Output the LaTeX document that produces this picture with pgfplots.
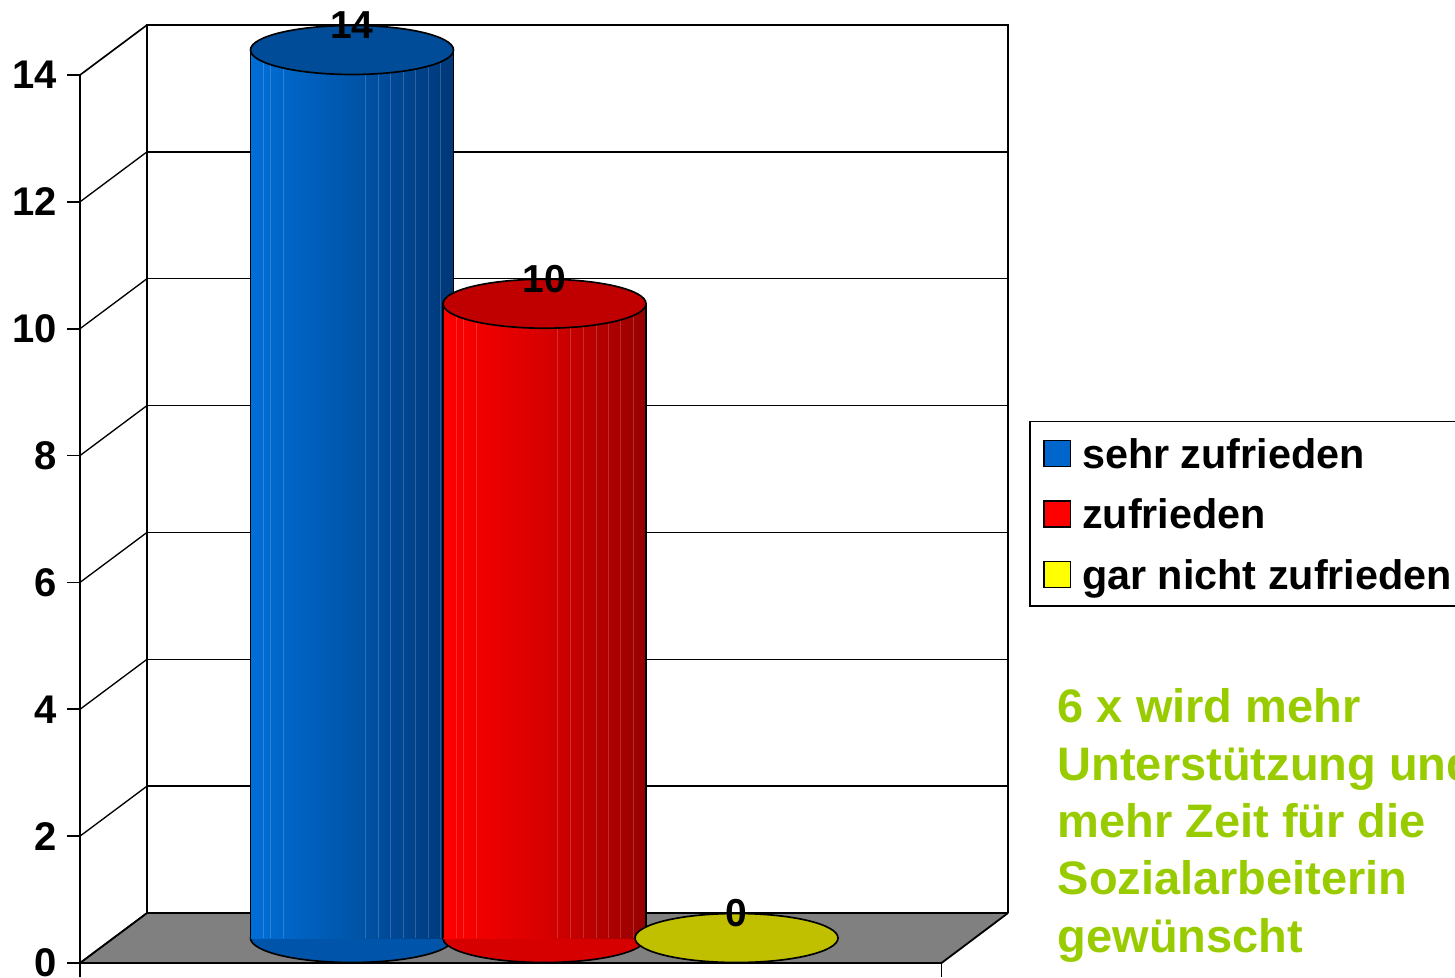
\documentclass[border=0pt]{standalone}
\usepackage{pgfplots}
\pgfplotsset{compat=1.18}
\usepackage{fontspec}
\setmainfont{Liberation Sans}
\definecolor{blueL}{RGB}{0,110,215}
\definecolor{blueM}{RGB}{0,85,170}
\definecolor{blueR}{RGB}{0,55,120}
\definecolor{blueCap}{RGB}{0,76,153}
\definecolor{redL}{RGB}{255,0,0}
\definecolor{redM}{RGB}{215,0,0}
\definecolor{redR}{RGB}{150,0,0}
\definecolor{redCap}{RGB}{192,0,0}
\definecolor{yelCap}{RGB}{192,192,0}
\definecolor{legBlue}{RGB}{0,102,204}
\definecolor{legRed}{RGB}{255,0,0}
\definecolor{legYel}{RGB}{255,255,0}
\definecolor{greenT}{RGB}{153,204,0}
\definecolor{floorgray}{RGB}{128,128,128}
% pixel position of the reference picture -> axis coordinates (mid depth)
\newcommand\pxc[2]{(axis cs:#1,{(938-(#2))/63.43})}
\begin{document}
\begin{tikzpicture}
\begin{axis}[
  scale only axis, width=412.5pt, height=293.1pt,
  xmin=80, xmax=1455, ymin=-0.6149, ymax=14.788,
  clip=false, clip marker paths=true,
  hide x axis, axis y line*=left,
  y axis line style={draw=none},
  ytick={0,2,...,14}, major tick length=0pt,
  /pgf/number format/assume math mode=true,
  yticklabel style={font=\fontsize{12}{14}\selectfont\bfseries, inner sep=0pt,
    anchor=east, xshift=-6.8pt, yshift=-7.5pt},
  legend style={at={(0.6902,0.5691)}, anchor=north west, draw=black,
    line width=0.45pt, fill=white,
    font=\fontsize{12.4}{14}\selectfont\bfseries,
    inner xsep=4.1pt, inner ysep=2.85pt, row sep=5.0pt, column sep=3.3pt,
    nodes={inner sep=0pt, text height=11.1pt, text depth=2.1pt},
    cells={anchor=west}},
  legend image code/.code={\draw[#1, draw=black, line width=0.4pt] (0pt,-3.9pt) rectangle (7.9pt,3.9pt);},
]
% floor
\fill[floorgray] \pxc{80}{963} -- \pxc{941.5}{963} -- \pxc{1008}{913} -- \pxc{147}{913} -- cycle;
\draw[line width=0.55pt] \pxc{80}{963} -- \pxc{941.5}{963} -- \pxc{1008}{913};
\draw[line width=0.55pt] \pxc{80}{963} -- \pxc{147}{913} -- \pxc{1008}{913};
\draw[line width=0.5pt] \pxc{941.5}{963} -- \pxc{941.5}{977};
% back wall
\draw[line width=0.5pt] \pxc{147}{913} -- \pxc{147}{25} -- \pxc{1008}{25} -- \pxc{1008}{913};
\pgfplotsinvokeforeach{2,4,6,8,10,12}{
  \draw[line width=0.4pt] \pxc{147}{913-63.43*#1} -- \pxc{1008}{913-63.43*#1};
}
% left wall and front axis
\draw[line width=0.5pt] \pxc{80}{977} -- \pxc{80}{75} -- \pxc{147}{25};
\pgfplotsinvokeforeach{0,2,4,6,8,10,12}{
  \draw[line width=0.4pt] \pxc{80}{963-63.43*#1} -- \pxc{147}{913-63.43*#1};
}
\pgfplotsinvokeforeach{0,2,4,6,8,10,12,14}{
  \draw[line width=0.5pt] \pxc{67}{963-63.43*#1} -- \pxc{80}{963-63.43*#1};
}

% ---- sehr zufrieden: 14
\addplot[only marks, mark=*, mark size=30.45pt, forget plot,
  mark options={fill=blueM, draw=black, line width=0.5pt, yscale=0.2414}]
  coordinates {(352,0)};
\addplot[ybar, bar width=203, bar shift=0pt, draw=none, forget plot,
  left color=blueL, right color=blueR, middle color=blueM]
  coordinates {(352,14)};
\addplot[ycomb, black, line width=0.5pt, no markers, forget plot]
  coordinates {(250.5,14) (453.5,14)};
\addplot[ycomb, white, opacity=0.18, line width=0.3pt, no markers, forget plot]
  coordinates {(263,14) (270,14) (283,14) (365,14) (378,14) (390,14) (403,14) (415,14) (428,14) (440,14)};
\addplot[only marks, mark=*, mark size=30.45pt, forget plot,
  mark options={fill=blueCap, draw=black, line width=0.5pt, yscale=0.2414},
  nodes near coords,
  every node near coord/.style={anchor=center, yshift=7.4pt, text=black,
    font=\fontsize{11.7}{13}\selectfont\bfseries}]
  coordinates {(352,14)};

% ---- zufrieden: 10
\addplot[only marks, mark=*, mark size=30.45pt, forget plot,
  mark options={fill=redM, draw=black, line width=0.5pt, yscale=0.2414}]
  coordinates {(544.5,0)};
\addplot[ybar, bar width=203, bar shift=0pt, draw=none, forget plot,
  left color=redL, right color=redR, middle color=redM]
  coordinates {(544.5,10)};
\addplot[ycomb, black, line width=0.5pt, no markers, forget plot]
  coordinates {(443,10) (646,10)};
\addplot[ycomb, white, opacity=0.18, line width=0.3pt, no markers, forget plot]
  coordinates {(456,10) (463,10) (476,10) (557,10) (570,10) (583,10) (596,10) (608,10) (620,10) (633,10)};
\addplot[only marks, mark=*, mark size=30.45pt, forget plot,
  mark options={fill=redCap, draw=black, line width=0.5pt, yscale=0.2414},
  nodes near coords,
  every node near coord/.style={anchor=center, yshift=7.4pt, text=black,
    font=\fontsize{11.7}{13}\selectfont\bfseries}]
  coordinates {(544.5,10)};

% ---- gar nicht zufrieden: 0
\addplot[only marks, mark=*, mark size=30.45pt, forget plot,
  mark options={fill=yelCap, draw=black, line width=0.5pt, yscale=0.2414},
  nodes near coords,
  every node near coord/.style={anchor=center, yshift=7.4pt, text=black,
    font=\fontsize{11.7}{13}\selectfont\bfseries}]
  coordinates {(736.5,0)};

\addlegendimage{fill=legBlue}
\addlegendimage{fill=legRed}
\addlegendimage{fill=legYel}
\legend{sehr zufrieden, zufrieden, gar nicht zufrieden}

\node[anchor=north west, inner sep=0pt, align=left, text=greenT,
  font=\fontsize{14.1}{17.2}\selectfont\bfseries] at \pxc{1057}{688}
  {6 x wird mehr\\Unterstützung und\\mehr Zeit für die\\Sozialarbeiterin\\gewünscht};
\end{axis}
\pgfresetboundingbox
\path ([xshift=-24pt]current axis.south west) rectangle (current axis.north east);
\end{tikzpicture}
\end{document}
